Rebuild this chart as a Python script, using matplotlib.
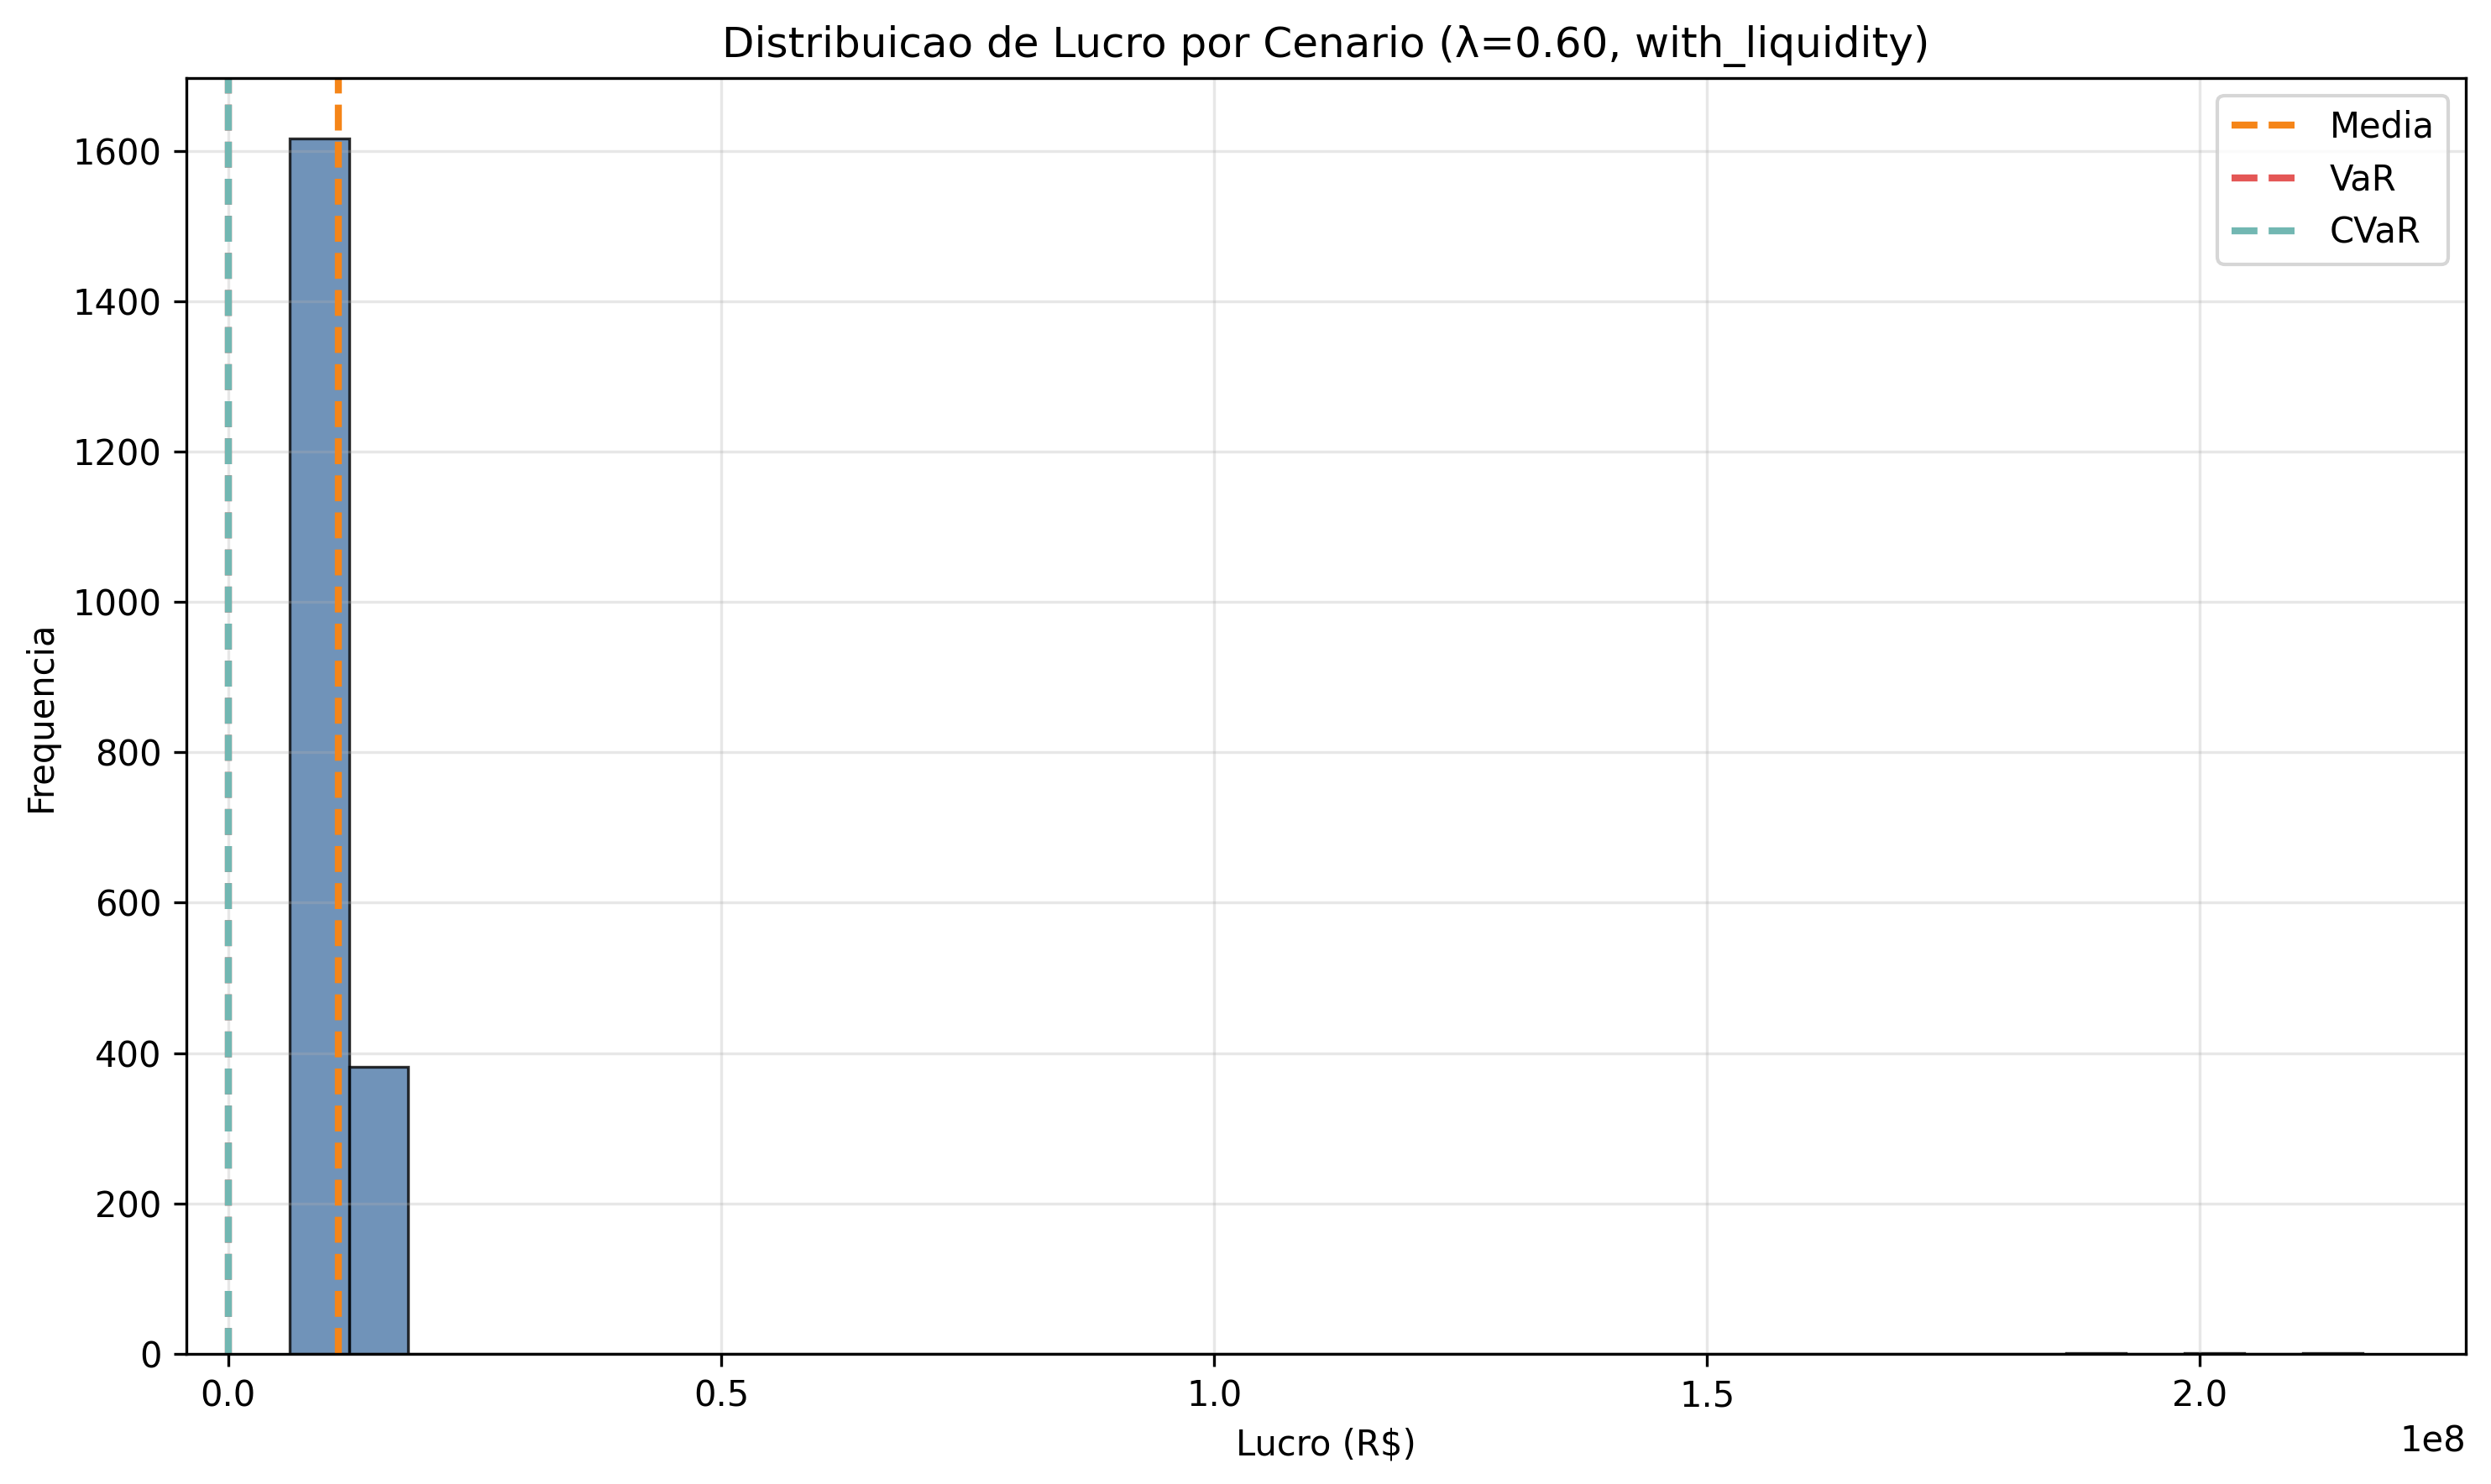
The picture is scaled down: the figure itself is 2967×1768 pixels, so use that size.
import numpy as np
import matplotlib
matplotlib.use("Agg")
import matplotlib.pyplot as plt

# Histogram (35 equal bins)
lucro_min = 6.26e6
lucro_max = 2.1645e8
n_bins = 35
counts = [1616, 382] + [0] * 28 + [1, 0, 1, 0, 1]

# Risk markers
media = 1.114e7
var_value = 0.0
cvar_value = 0.0

lam = 0.60
cenario = "with_liquidity"

edges = np.linspace(lucro_min, lucro_max, n_bins + 1)
centers = (edges[:-1] + edges[1:]) / 2

fig, ax = plt.subplots(figsize=(2967 / 300, 1768 / 300), dpi=300)
fig.subplots_adjust(left=0.0748, right=0.9899, bottom=0.0877, top=0.9474)

# Histogram bars
ax.hist(centers, bins=edges, weights=counts, color="#4C78A8", alpha=0.8,
        edgecolor="black", linewidth=0.8)

# Vertical reference lines
ax.axvline(media, color="#F58518", linestyle="--", linewidth=2, label="Media")
ax.axvline(var_value, color="#E45756", linestyle="--", linewidth=2, label="VaR")
ax.axvline(cvar_value, color="#72B7B2", linestyle="--", linewidth=2, label="CVaR")

ax.set_title(f"Distribuicao de Lucro por Cenario (\u03bb={lam:.2f}, {cenario})")
ax.set_xlabel("Lucro (R$)")
ax.set_ylabel("Frequencia")
ax.grid(True, alpha=0.3)
ax.legend(loc="upper right")

plt.savefig("out.png", dpi=300)
